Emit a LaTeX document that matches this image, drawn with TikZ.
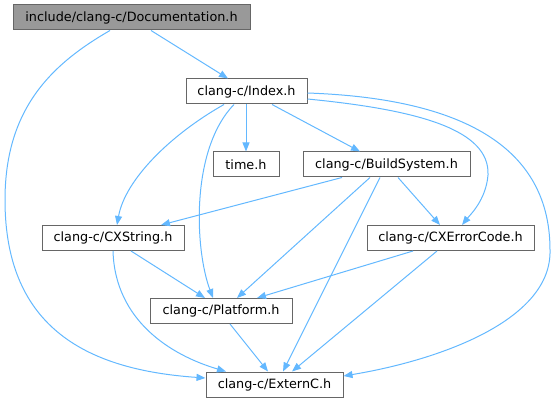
\documentclass[tikz,border=0pt]{standalone}
\usepackage{fontspec}
\setmainfont{DejaVu Sans}
\usetikzlibrary{arrows.meta}
\definecolor{edgeblue}{HTML}{63B8FF}
\definecolor{nodeborder}{HTML}{666666}
\definecolor{rootfill}{HTML}{999999}
\begin{document}
\begin{tikzpicture}[x=1pt,y=-1pt,
  box/.style={draw=nodeborder, line width=1pt, fill=white, inner sep=0pt,
    minimum height=25pt, font=\fontsize{12.8}{15}\selectfont},
  root/.style={box, fill=rootfill},
  dep/.style={draw=edgeblue, line width=1pt, -{Triangle[length=9pt,width=7pt]}}]
\useasboundingbox (0,0) rectangle (556,403);
\node[root, minimum width=237pt] (doc) at (131.5,17.5) {include/clang-c/Documentation.h};
\node[box, minimum width=121pt] (idx) at (246.5,91.5) {clang-c/Index.h};
\node[box, minimum width=66pt] (time) at (246,164.5) {time.h};
\node[box, minimum width=167pt] (bs) at (386.5,164.5) {clang-c/BuildSystem.h};
\node[box, minimum width=142pt] (cxs) at (113,238) {clang-c/CXString.h};
\node[box, minimum width=167pt] (cxe) at (450.5,238) {clang-c/CXErrorCode.h};
\node[box, minimum width=142pt] (plat) at (221,311) {clang-c/Platform.h};
\node[box, minimum width=137pt] (ext) at (274.5,384.5) {clang-c/ExternC.h};

\draw[dep] ([xshift=19.5pt]doc.south) -- ([xshift=-18.5pt]idx.north);
\draw[dep] ([xshift=-21.5pt]doc.south) .. controls (50,65) and (5,110) .. (5,200)
   .. controls (5,330) and (90,370) .. ([yshift=6.5pt]ext.west);
\draw[dep] ([xshift=-22.5pt]idx.south) .. controls (170,135) and (125,180) .. ([xshift=4pt]cxs.north);
\draw[dep] ([xshift=-12.5pt]idx.south) .. controls (190,150) and (195,250) .. ([xshift=-8pt]plat.north);
\draw[dep] (idx.south -| time.north) -- (time.north);
\draw[dep] ([xshift=25.5pt]idx.south) -- ([xshift=-26.5pt]bs.north);
\draw[dep] ([yshift=-7.5pt]idx.east) .. controls (420,110) and (490,130) .. (488,175)
   .. controls (486,200) and (470,215) .. ([xshift=11.5pt]cxe.north);
\draw[dep] ([yshift=-1.5pt]idx.east) .. controls (450,98) and (550,140) .. (550,250)
   .. controls (552,320) and (440,360) .. ([yshift=8.5pt]ext.east);
\draw[dep] ([xshift=-44.5pt]bs.south) -- ([xshift=48pt]cxs.north);
\draw[dep] ([xshift=-16.5pt]bs.south) -- ([xshift=16pt]plat.north);
\draw[dep] ([xshift=-6.5pt]bs.south) -- ([xshift=8.5pt]ext.north);
\draw[dep] ([xshift=11.5pt]bs.south) -- ([xshift=-10.5pt]cxe.north);
\draw[dep] ([xshift=18pt]cxs.south) -- ([xshift=-16pt]plat.north);
\draw[dep] (cxs.south) .. controls (115,320) and (170,355) .. ([xshift=-48.5pt]ext.north);
\draw[dep] ([xshift=-37.5pt]cxe.south) -- ([xshift=36pt]plat.north);
\draw[dep] ([xshift=-13.5pt]cxe.south) -- ([xshift=17.5pt]ext.north);
\draw[dep] ([xshift=9pt]plat.south) -- ([xshift=-6.5pt]ext.north);
\end{tikzpicture}
\end{document}
